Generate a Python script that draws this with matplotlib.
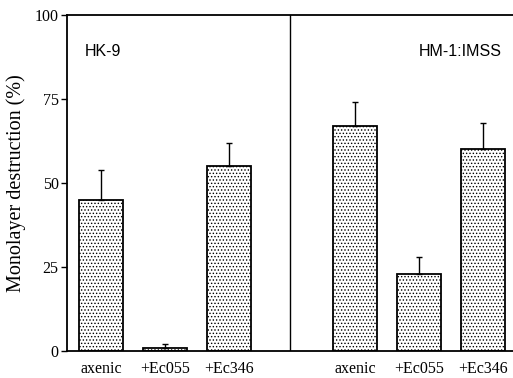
import matplotlib

matplotlib.use("Agg")
import matplotlib.pyplot as plt

# data
treatments = ["axenic", "+Ec055", "+Ec346"]
hk9_means = [45, 1, 55]
hk9_err = [9, 1, 7]
hm1_means = [67, 23, 60]
hm1_err = [7, 5, 8]
y_ticks = [0, 25, 50, 75, 100]

plt.rcParams["hatch.linewidth"] = 0.6
plt.rcParams["hatch.color"] = "#8a8a8a"

fig = plt.figure(figsize=(5.13, 3.78), dpi=100)
ax = fig.add_axes([0.1306, 0.0714, 0.8694, 0.8889])

left_x = [0, 1, 2]
right_x = [3.97, 4.97, 5.97]
width = 0.69

for xs, means, errs in [(left_x, hk9_means, hk9_err), (right_x, hm1_means, hm1_err)]:
    ax.bar(xs, means, width=width, color="white", edgecolor="black",
           linewidth=1.3, hatch=".....", zorder=2)
    ax.errorbar(xs, means, yerr=[[0] * len(errs), errs], fmt="none",
                ecolor="black", elinewidth=1.0, capsize=2, capthick=1.0, zorder=3)

ax.axvline(2.95, color="black", linewidth=1.0)

ax.set_xlim(-0.53, 6.44)
ax.set_ylim(0, 100)
ax.set_yticks(y_ticks)
ax.set_yticklabels([str(t) for t in y_ticks], family="Liberation Serif", fontsize=11.5)
ax.set_xticks(left_x + right_x)
ax.set_xticklabels(treatments * 2, family="Liberation Serif", fontsize=11.5)
ax.tick_params(axis="x", length=0, pad=7)
ax.tick_params(axis="y", direction="out", length=4, width=1.0, pad=2)

ax.spines["right"].set_visible(False)
for s in ["left", "top", "bottom"]:
    ax.spines[s].set_linewidth(1.3)

ax.set_ylabel("Monolayer destruction (%)", family="Liberation Serif", fontsize=14.5, labelpad=6)

ax.text(0.04, 0.89, "HK-9", transform=ax.transAxes, family="Liberation Sans",
        fontsize=11.5, va="center", ha="left")
ax.text(0.975, 0.89, "HM-1:IMSS", transform=ax.transAxes, family="Liberation Sans",
        fontsize=11.5, va="center", ha="right")

fig.savefig("out.png", dpi=100)
